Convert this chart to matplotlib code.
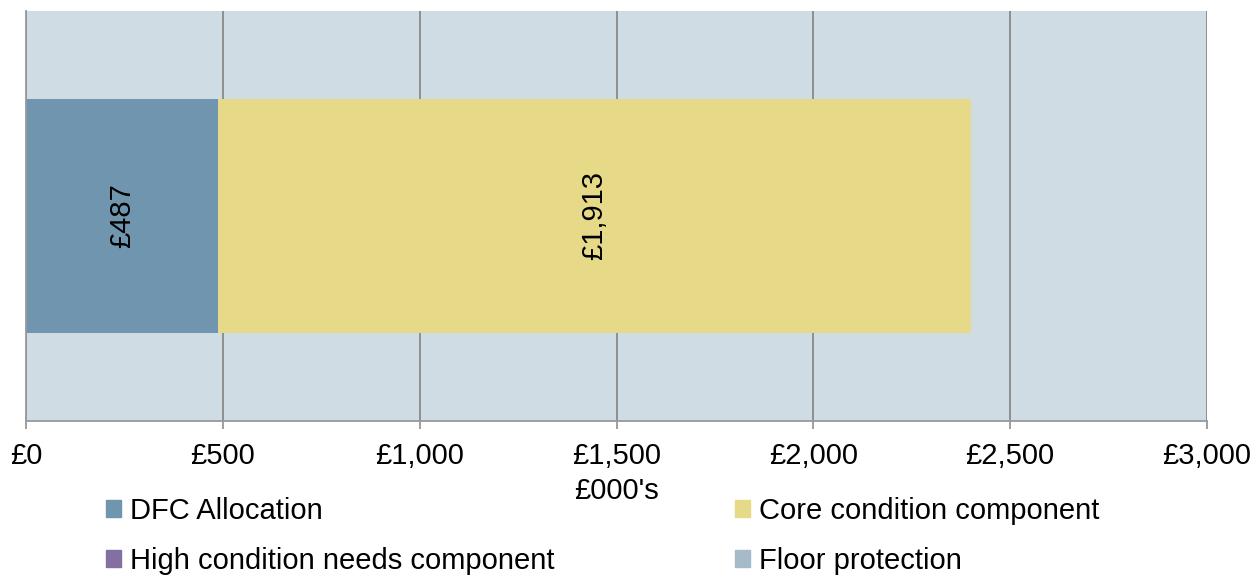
import matplotlib
matplotlib.use('Agg')
from matplotlib import pyplot as plt
from matplotlib.patches import Patch

plt.rcParams['font.family'] = ['Liberation Sans', 'DejaVu Sans']

series = ['DFC Allocation', 'Core condition component',
          'High condition needs component', 'Floor protection']
values = [487, 1913, 0, 0]
colors = ['#7095ae', '#e6d987', '#8470a0', '#a5bbc9']
bar_labels = ['£487', '£1,913', '', '']
xticks = [0, 500, 1000, 1500, 2000, 2500, 3000]
xticklabels = ['£0', '£500', '£1,000', '£1,500', '£2,000', '£2,500', '£3,000']

FS = 21

fig = plt.figure(figsize=(12.58, 5.78), dpi=100)
ax = fig.add_axes([26 / 1258, 1 - 421 / 578, (1207 - 26) / 1258, 410 / 578])
ax.set_facecolor('#d0dce4')

left = 0
for name, v, c, lab in zip(series, values, colors, bar_labels):
    ax.barh(0, v, left=left, height=0.57, color=c, label=name, zorder=2)
    if lab:
        ax.text(left + v / 2, 0, lab, rotation=90, ha='center', va='center',
                fontsize=FS, zorder=3)
    left += v

ax.set_xlim(0, 3000)
ax.set_ylim(-0.5, 0.5)
ax.set_xticks(xticks)
ax.set_xticklabels(xticklabels, fontsize=FS)
ax.set_yticks([])
ax.grid(axis='x', color='#888888', lw=1.3, zorder=1)
ax.tick_params(axis='x', length=6, color='#999999', width=1.3, pad=9)
for s in ['top', 'right']:
    ax.spines[s].set_visible(False)
for s in ['left', 'bottom']:
    ax.spines[s].set_color('#999999')
    ax.spines[s].set_linewidth(1.3)
ax.set_xlabel("£000's", fontsize=FS, labelpad=5)

handles = [Patch(color=colors[i]) for i in [0, 2, 1, 3]]
labels = [series[i] for i in [0, 2, 1, 3]]
fig.legend(handles, labels, ncol=2, loc='center', bbox_to_anchor=(0.479, 0.073),
           frameon=False, fontsize=FS, handlelength=0.52, handleheight=0.52,
           handletextpad=0.3, columnspacing=6.2, labelspacing=0.74,
           borderpad=0.2)

fig.savefig('out.png', dpi=100)
